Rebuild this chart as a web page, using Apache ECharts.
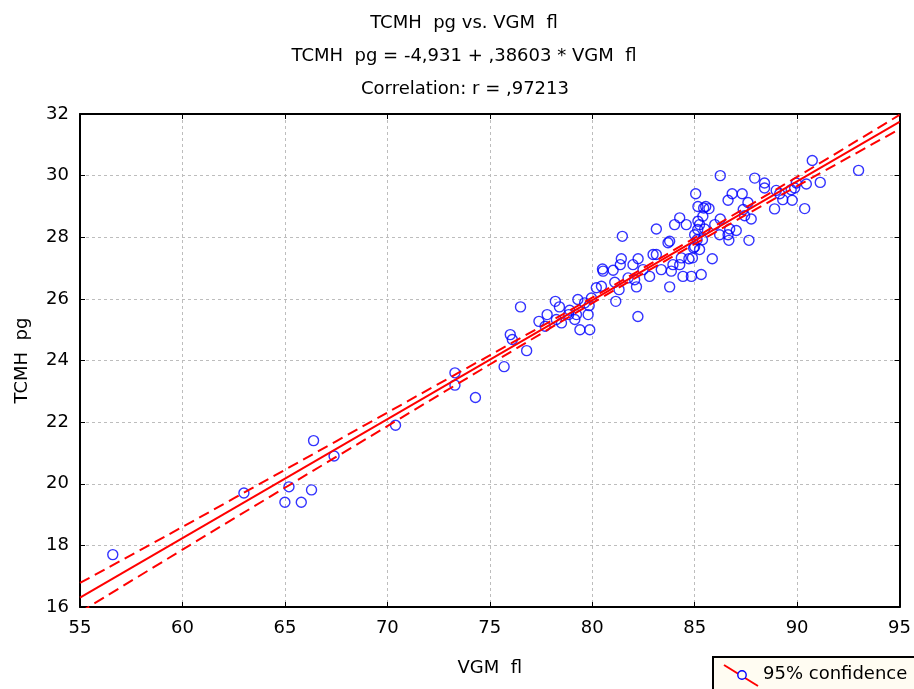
<!DOCTYPE html>
<html>
<head>
<meta charset="utf-8">
<script src="https://cdn.jsdelivr.net/npm/echarts@6/dist/echarts.min.js"></script>
<style>
  html, body { margin: 0; padding: 0; background: #ffffff; }
  #chart { width: 914px; height: 689px; }
</style>
</head>
<body>
<div id="chart"></div>
<script>
// Observations: mean corpuscular volume (fl) and mean corpuscular haemoglobin (pg)
const vgm = [
  56.6, 63.0, 65.0, 65.2, 65.8, 66.3, 66.4, 67.4, 70.4, 73.3, 73.3, 74.3, 75.7,
  76.0, 76.1, 76.5, 76.8, 77.4, 77.8, 77.7, 78.2, 78.4, 78.25, 78.5, 78.9, 78.85,
  79.3, 79.15, 79.4, 79.23, 79.63, 79.8, 79.88, 79.85, 80.2, 80.45, 79.96, 80.53,
  82.23, 81.15, 80.5, 81.02, 81.1, 81.42, 81.37, 81.47, 81.31, 81.99, 82.24, 82.07,
  82.16, 81.75, 82.8, 82.97, 83.13, 83.13, 82.48, 83.37, 83.7, 83.78, 83.78, 83.86,
  83.94, 84.27, 84.35, 84.27, 84.02, 84.59, 84.43, 84.84, 84.72, 85.32, 84.95, 85.0,
  85.16, 85.24, 85.4, 85.54, 85.15, 85.24,
  86.25, 87.93, 88.41, 88.41, 85.05, 85.44, 85.7, 85.16, 85.49, 85.98, 86.25, 86.63,
  86.83, 87.32, 87.6, 87.37, 87.44, 87.76, 87.03, 86.71, 86.63, 86.22, 86.67, 87.65,
  88.9, 88.98, 89.15, 89.3, 89.76, 89.71, 89.96, 85.86, 84.89, 85.0, 85.12, 85.38,
  90.74, 93.0, 91.13, 90.45, 89.88, 90.37
];
const tcmh = [
  17.7, 19.7, 19.4, 19.9, 19.4, 19.8, 21.4, 20.9, 21.9, 23.6, 23.2, 22.8, 23.8,
  24.84, 24.68, 25.74, 24.32, 25.27, 25.49, 25.11, 25.92, 25.74, 25.33, 25.22, 25.63, 25.49,
  25.98, 25.33, 25.0, 25.49, 25.87, 25.49, 25.0, 25.78, 26.36, 26.41, 26.03, 26.9,
  25.43, 25.92, 26.97, 26.93, 26.54, 27.3, 27.11, 28.03, 26.3, 27.11, 27.3, 26.62,
  26.39, 26.68, 26.73, 27.44, 27.44, 28.27, 26.95, 26.95, 27.82, 27.87, 26.39, 26.9,
  27.11, 27.11, 27.33, 28.63, 28.41, 28.41, 26.73, 26.73, 27.3, 26.79, 27.65, 28.08,
  29.0, 28.41, 28.68, 29.0, 28.25, 27.6,
  30.0, 29.92, 29.76, 29.6, 29.41, 28.95, 28.93, 28.52, 28.27, 28.41, 28.59, 29.2,
  29.41, 29.41, 29.13, 28.9, 28.7, 28.59, 28.22, 28.27, 28.08, 28.08, 27.9, 27.9,
  28.92, 29.52, 29.41, 29.22, 29.2, 29.54, 29.76, 27.3, 27.33, 27.69, 27.92, 27.92,
  30.49, 30.17, 29.78, 29.73, 29.6, 28.93
];

// Fitted regression line and correlation
const intercept = -4.931;
const slope = 0.38603;
const correlation = 0.97213;

// 95% confidence band around the regression line
const bandX     = [55, 60, 65, 70, 75, 80, 85, 90, 95];
const bandUpper = [16.78, 18.60, 20.45, 22.31, 24.17, 26.04, 27.98, 29.96, 31.97];
const bandLower = [15.83, 17.86, 19.87, 21.87, 23.87, 25.86, 27.78, 29.66, 31.51];

// Axis ranges
const xMin = 55, xMax = 95, xStep = 5;
const yMin = 16, yMax = 32, yStep = 2;

const FONT = '"DejaVu Sans", "Liberation Sans", Arial, sans-serif';
const FS = 18;
const fmt = v => {
  const s = String(v);
  return s.replace(/^(-?)0\./, '$1.').replace('.', ',');
};

const points = vgm.map((x, i) => [x, tcmh[i]]);
const fitLine = [xMin, xMax].map(x => [x, intercept + slope * x]);
const upper = bandX.map((x, i) => [x, bandUpper[i]]);
const lower = bandX.map((x, i) => [x, bandLower[i]]);

const chart = echarts.init(document.getElementById('chart'), null, { renderer: 'canvas' });

const titleStyle = { fontFamily: FONT, fontSize: FS, fontWeight: 'normal', color: '#000' };

chart.setOption({
  backgroundColor: '#ffffff',
  animation: false,
  title: [
    { text: 'TCMH  pg vs. VGM  fl', left: 459, top: 9, textAlign: 'center', textStyle: titleStyle },
    { text: 'TCMH  pg = ' + fmt(intercept) + ' + ' + fmt(slope) + ' * VGM  fl', left: 459, top: 42, textAlign: 'center', textStyle: titleStyle },
    { text: 'Correlation: r = ' + fmt(correlation), left: 460, top: 75, textAlign: 'center', textStyle: titleStyle }
  ],
  grid: { left: 80, right: 14, top: 114, bottom: 82, containLabel: false },
  xAxis: [
    {
      type: 'value', min: xMin, max: xMax, interval: xStep,
      name: 'VGM  fl', nameLocation: 'middle', nameGap: 52,
      nameTextStyle: { fontFamily: FONT, fontSize: FS, color: '#000' },
      axisLine: { show: true, onZero: false, lineStyle: { color: '#000', width: 2 } },
      axisTick: { show: true, inside: true, length: 5, lineStyle: { color: '#000', width: 1 } },
      axisLabel: { fontFamily: FONT, fontSize: FS, color: '#000', margin: 12 },
      splitLine: { show: true, lineStyle: { color: '#bdbdbd', type: [3, 3], width: 1 } }
    },
    {
      type: 'value', min: xMin, max: xMax, interval: xStep, position: 'top',
      axisLine: { show: true, onZero: false, lineStyle: { color: '#000', width: 2 } },
      axisTick: { show: true, inside: true, length: 5, lineStyle: { color: '#000', width: 1 } },
      axisLabel: { show: false }, splitLine: { show: false }
    }
  ],
  yAxis: [
    {
      type: 'value', min: yMin, max: yMax, interval: yStep,
      name: 'TCMH  pg', nameLocation: 'middle', nameGap: 49, nameRotate: 90,
      nameTextStyle: { fontFamily: FONT, fontSize: FS, color: '#000' },
      axisLine: { show: true, onZero: false, lineStyle: { color: '#000', width: 2 } },
      axisTick: { show: true, inside: true, length: 5, lineStyle: { color: '#000', width: 1 } },
      axisLabel: { fontFamily: FONT, fontSize: FS, color: '#000', margin: 11 },
      splitLine: { show: true, lineStyle: { color: '#bdbdbd', type: [3, 3], width: 1 } }
    },
    {
      type: 'value', min: yMin, max: yMax, interval: yStep, position: 'right',
      axisLine: { show: true, onZero: false, lineStyle: { color: '#000', width: 2 } },
      axisTick: { show: true, inside: true, length: 5, lineStyle: { color: '#000', width: 1 } },
      axisLabel: { show: false }, splitLine: { show: false }
    }
  ],
  series: [
    {
      name: 'observations', type: 'scatter', data: points,
      symbol: 'circle', symbolSize: 10,
      itemStyle: { color: 'rgba(0,0,0,0)', borderColor: '#0000ff', borderWidth: 1.4 },
      emphasis: { disabled: true }, z: 2
    },
    {
      name: 'fit', type: 'line', data: fitLine, showSymbol: false,
      lineStyle: { color: '#ff0000', width: 2 }, z: 3
    },
    {
      name: 'upper 95%', type: 'line', data: upper, showSymbol: false, smooth: 0.3,
      lineStyle: { color: '#ff0000', width: 2, type: [11, 6] }, z: 3
    },
    {
      name: 'lower 95%', type: 'line', data: lower, showSymbol: false, smooth: 0.3,
      lineStyle: { color: '#ff0000', width: 2, type: [11, 6] }, z: 3
    }
  ],
  graphic: [
    {
      type: 'group', left: 712, top: 656,
      children: [
        { type: 'rect', shape: { x: 0, y: 0, width: 230, height: 50 }, style: { fill: '#fffcf2', stroke: '#000', lineWidth: 2 } },
        { type: 'line', shape: { x1: 11, y1: 8, x2: 45, y2: 29 }, style: { stroke: '#ff0000', lineWidth: 2 } },
        { type: 'circle', shape: { cx: 29, cy: 18, r: 4.2 }, style: { fill: '#fffcf2', stroke: '#0000ff', lineWidth: 1.4 } },
        { type: 'text', x: 50, y: 17, style: { text: '95% confidence', fontFamily: FONT, fontSize: FS, fill: '#000', verticalAlign: 'middle' } }
      ]
    }
  ]
});
</script>
</body>
</html>
